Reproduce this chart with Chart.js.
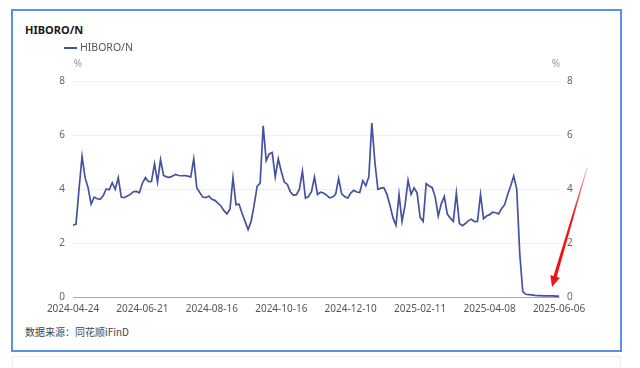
<!DOCTYPE html>
<html>
<head>
<meta charset="utf-8">
<script src="https://cdn.jsdelivr.net/npm/chart.js@4.4.1/dist/chart.umd.min.js"></script>
<style>
  html, body { margin: 0; padding: 0; background: #fff; }
  body { width: 640px; height: 368px; position: relative; overflow: hidden; font-family: "Noto Sans", "Noto Sans CJK SC", sans-serif; }
  #frame { position: absolute; left: 11px; top: 9px; width: 611px; height: 343px; box-sizing: border-box; border: 2px solid #5a90e6; }
  #next { position: absolute; left: 12px; top: 356px; width: 609px; height: 30px; box-sizing: border-box; border: 1px solid #ececec; }
  #title { position: absolute; left: 25px; top: 22px; font-size: 11px; line-height: 15px; font-weight: bold; color: #1a1a1a; }
  #source { position: absolute; left: 25px; top: 324px; font-size: 10px; line-height: 15px; color: #444; font-family: "Noto Sans CJK SC", "Noto Sans", sans-serif; }
  #chart { position: absolute; left: 0; top: 0; }
</style>
</head>
<body>
<div id="frame"></div>
<div id="next"></div>
<div id="title">HIBORO/N</div>
<div id="source">数据来源：同花顺iFinD</div>
<canvas id="chart" width="640" height="368"></canvas>
<script>
// HIBOR overnight, %
const seriesName = "HIBORO/N";
const unit = "%";
const tickLabels = ["2024-04-24", "2024-06-21", "2024-08-16", "2024-10-16", "2024-12-10", "2025-02-11", "2025-04-08", "2025-06-06"];
const yTicks = [0, 2, 4, 6, 8];
const values = [
  2.66, 2.7, 4.0, 5.21, 4.42, 4.05, 3.44, 3.7, 3.64, 3.62,
  3.75, 4.0, 3.97, 4.23, 3.99, 4.42, 3.7, 3.68, 3.74, 3.8,
  3.9, 3.91, 3.86, 4.22, 4.42, 4.27, 4.28, 4.93, 4.26, 5.09,
  4.5, 4.45, 4.43, 4.48, 4.54, 4.5, 4.49, 4.5, 4.48, 4.44,
  5.12, 4.05, 3.87, 3.7, 3.68, 3.74, 3.62, 3.58, 3.48, 3.37,
  3.2, 3.08, 3.25, 4.42, 3.42, 3.44, 3.1, 2.8, 2.5, 2.8,
  3.4, 4.1, 4.22, 6.34, 5.05, 5.3, 5.35, 4.45, 5.12, 4.65,
  4.26, 4.17, 3.9, 3.77, 3.79, 3.99, 4.66, 3.66, 3.72, 3.9,
  4.44, 3.8, 3.88, 3.85, 3.77, 3.67, 3.7, 3.8, 4.39, 3.82,
  3.72, 3.66, 3.85, 3.95, 3.89, 3.87, 4.31, 4.12, 4.45, 6.44,
  5.0, 3.99, 4.03, 4.05, 3.8, 3.4, 2.93, 2.66, 3.8, 2.8,
  3.4, 4.33, 3.8, 4.04, 3.85, 2.95, 2.8, 4.2, 4.11, 4.05,
  3.7, 3.0, 3.45, 3.72, 3.07, 2.92, 2.8, 3.85, 2.72, 2.64,
  2.72, 2.83, 2.88, 2.79, 2.8, 3.8, 2.9, 3.0, 3.05, 3.14,
  3.12, 3.08, 3.28, 3.42, 3.8, 4.12, 4.48, 4.0, 1.6, 0.2,
  0.1, 0.09, 0.08, 0.06, 0.05, 0.05, 0.04, 0.04, 0.04, 0.04,
  0.03, 0.03
];

const lineColor = "#45529f";
const step = (values.length - 1) / (tickLabels.length - 1);
const tickFont = { family: "'Noto Sans', sans-serif", size: 10 };

// legend, "%" units and the red arrow
const extras = {
  id: "extras",
  afterDraw(chart) {
    const { ctx, chartArea: a } = chart;
    ctx.save();
    // legend
    ctx.strokeStyle = lineColor;
    ctx.lineWidth = 2;
    ctx.beginPath();
    ctx.moveTo(64, 48);
    ctx.lineTo(77, 48);
    ctx.stroke();
    ctx.fillStyle = "#555";
    ctx.font = "10.5px 'Noto Sans', sans-serif";
    ctx.textBaseline = "middle";
    ctx.fillText(seriesName, 80, 48);
    // units
    ctx.fillStyle = "#999";
    ctx.font = "10px 'Noto Sans', sans-serif";
    ctx.textAlign = "center";
    ctx.fillText(unit, a.left + 5, a.top - 17);
    ctx.fillText(unit, a.right - 3, a.top - 17);

    // arrow
    const tip = { x: a.right - 7, y: a.bottom - 10 };
    const top = { x: a.right + 28, y: a.top + 87 };
    const dx = tip.x - top.x, dy = tip.y - top.y;
    const len = Math.hypot(dx, dy);
    const ux = dx / len, uy = dy / len, nx = -uy, ny = ux;
    const bx = tip.x - ux * 11, by = tip.y - uy * 11;
    const grad = ctx.createLinearGradient(top.x, top.y, tip.x, tip.y);
    grad.addColorStop(0, "rgba(240,20,20,0.35)");
    grad.addColorStop(0.4, "#f01414");
    grad.addColorStop(1, "#f01414");
    ctx.fillStyle = grad;
    ctx.beginPath();
    ctx.moveTo(top.x + nx * 0.4, top.y + ny * 0.4);
    ctx.lineTo(bx + nx * 1.7, by + ny * 1.7);
    ctx.lineTo(bx + nx * 5, by + ny * 5);
    ctx.lineTo(tip.x, tip.y);
    ctx.lineTo(bx - nx * 5, by - ny * 5);
    ctx.lineTo(bx - nx * 1.7, by - ny * 1.7);
    ctx.lineTo(top.x - nx * 0.4, top.y - ny * 0.4);
    ctx.closePath();
    ctx.fill();
    ctx.restore();
  }
};

new Chart(document.getElementById("chart"), {
  type: "line",
  data: {
    datasets: [{
      label: seriesName,
      data: values.map((v, i) => ({ x: i, y: v })),
      borderColor: lineColor,
      borderWidth: 1.7,
      pointRadius: 0,
      tension: 0,
      yAxisID: "y"
    }]
  },
  options: {
    responsive: false,
    animation: false,
    layout: { padding: { top: 81, left: 0, right: 0, bottom: 0 } },
    plugins: { legend: { display: false }, tooltip: { enabled: false } },
    scales: {
      x: {
        type: "linear",
        min: 0,
        max: values.length - 1,
        grid: { display: false },
        border: { display: true, color: "#9ba6c8", width: 1 },
        afterBuildTicks: s => { s.ticks = tickLabels.map((_, k) => ({ value: k * step })); },
        afterFit: s => { s.height = 71; },
        ticks: {
          autoSkip: false,
          maxRotation: 0,
          padding: -2,
          color: "#555",
          font: tickFont,
          callback: v => tickLabels[Math.round(v / step)]
        }
      },
      y: {
        position: "left",
        min: 0,
        max: 8,
        afterBuildTicks: s => { s.ticks = yTicks.map(v => ({ value: v })); },
        afterFit: s => { s.width = 73; },
        grid: { color: "#eef0f7", drawTicks: false },
        border: { display: false },
        ticks: { padding: 8, color: "#666", font: tickFont }
      },
      y1: {
        position: "right",
        min: 0,
        max: 8,
        afterBuildTicks: s => { s.ticks = yTicks.map(v => ({ value: v })); },
        afterFit: s => { s.width = 81; },
        grid: { display: false, drawTicks: false },
        border: { display: false },
        ticks: { padding: 8, color: "#666", font: tickFont }
      }
    }
  },
  plugins: [extras]
});
</script>
</body>
</html>
